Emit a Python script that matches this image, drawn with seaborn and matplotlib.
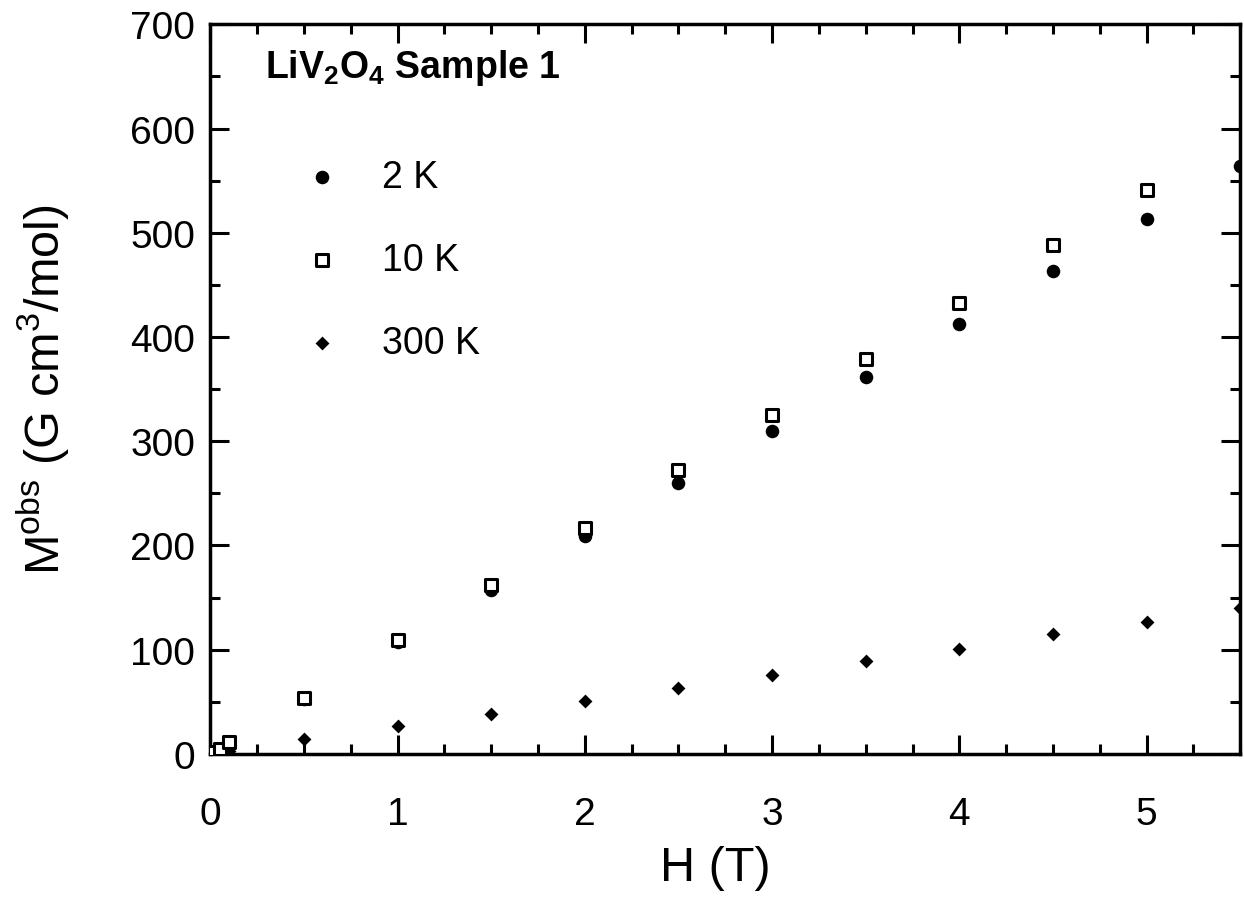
import matplotlib
matplotlib.use("Agg")
import matplotlib.pyplot as plt
import seaborn as sns
import pandas as pd
from matplotlib.ticker import MultipleLocator

# Data
H_2K = [0.01, 0.02, 0.05, 0.1, 0.5, 1.0, 1.5, 2.0, 2.5, 3.0, 3.5, 4.0, 4.5, 5.0, 5.5]
M_2K = [1, 2, 5, 11, 53, 107, 157, 209, 260, 310, 362, 412, 463, 513, 564]
H_10K = [0.01, 0.02, 0.05, 0.1, 0.5, 1.0, 1.5, 2.0, 2.5, 3.0, 3.5, 4.0, 4.5, 5.0]
M_10K = [1, 2, 5, 11, 54, 109, 162, 217, 272, 325, 379, 433, 488, 541]
H_300K = [0.01, 0.02, 0.05, 0.1, 0.5, 1.0, 1.5, 2.0, 2.5, 3.0, 3.5, 4.0, 4.5, 5.0, 5.5]
M_300K = [0.3, 0.5, 1.3, 2.7, 14, 27, 38, 51, 63, 76, 89, 101, 115, 127, 140]
labels = ["2 K", "10 K", "300 K"]
x_ticks = [0, 1, 2, 3, 4, 5]
y_ticks = [0, 100, 200, 300, 400, 500, 600, 700]

sns.set_theme(style="ticks")
plt.rcParams['font.family'] = ['Liberation Sans', 'DejaVu Sans']
plt.rcParams['mathtext.fontset'] = 'custom'
plt.rcParams['mathtext.rm'] = 'Liberation Sans'
plt.rcParams['mathtext.bf'] = 'Liberation Sans:bold'
for k in ['text.color', 'axes.labelcolor', 'xtick.color', 'ytick.color', 'axes.edgecolor']:
    plt.rcParams[k] = 'black'

fig = plt.figure(figsize=(12.44, 9.03), dpi=100)
ax = fig.add_axes([0.169, 0.164, 0.828, 0.808])

df2 = pd.DataFrame({"H": H_2K, "M": M_2K})
df10 = pd.DataFrame({"H": H_10K, "M": M_10K})
df300 = pd.DataFrame({"H": H_300K, "M": M_300K})

sns.scatterplot(data=df2, x="H", y="M", ax=ax, marker="o", s=95,
                color="black", edgecolor="black", linewidth=0, label=labels[0], zorder=3)
sns.scatterplot(data=df10, x="H", y="M", ax=ax, marker="s", s=65,
                facecolor="white", edgecolor="black", linewidth=2.2, label=labels[1], zorder=4)
sns.scatterplot(data=df300, x="H", y="M", ax=ax, marker="D", s=50,
                color="black", edgecolor="black", linewidth=0, label=labels[2], zorder=3)

ax.set_xlim(0, 5.5)
ax.set_ylim(0, 700)
ax.set_xticks(x_ticks)
ax.set_yticks(y_ticks)
ax.xaxis.set_minor_locator(MultipleLocator(0.25))
ax.yaxis.set_minor_locator(MultipleLocator(50))
ax.tick_params(which="both", direction="in", top=True, right=True, width=2.2, colors="black")
ax.tick_params(which="major", length=14, labelsize=28)
ax.tick_params(which="minor", length=7)
ax.tick_params(axis="x", which="major", pad=30)
ax.tick_params(axis="y", which="major", pad=11)
for sp in ax.spines.values():
    sp.set_linewidth(2.5)
    sp.set_color("black")

ax.set_xlabel("H (T)", fontsize=35)
ax.set_ylabel(r"M$^{\mathrm{obs}}$ (G cm$^3$/mol)", fontsize=35)
ax.xaxis.set_label_coords(0.49, -0.125)
ax.yaxis.set_label_coords(-0.134, 0.5)

ax.text(0.053, 0.942, r"LiV$_\mathbf{2}$O$_\mathbf{4}$ Sample 1", transform=ax.transAxes,
        fontsize=27, fontweight="bold", va="center", ha="left")

leg = ax.legend(loc="upper left", bbox_to_anchor=(0.09, 0.815), frameon=False,
                fontsize=27, labelspacing=1.25, handletextpad=1.1, handlelength=1.0,
                borderpad=0, borderaxespad=0)

fig.savefig("out.png", dpi=100)
